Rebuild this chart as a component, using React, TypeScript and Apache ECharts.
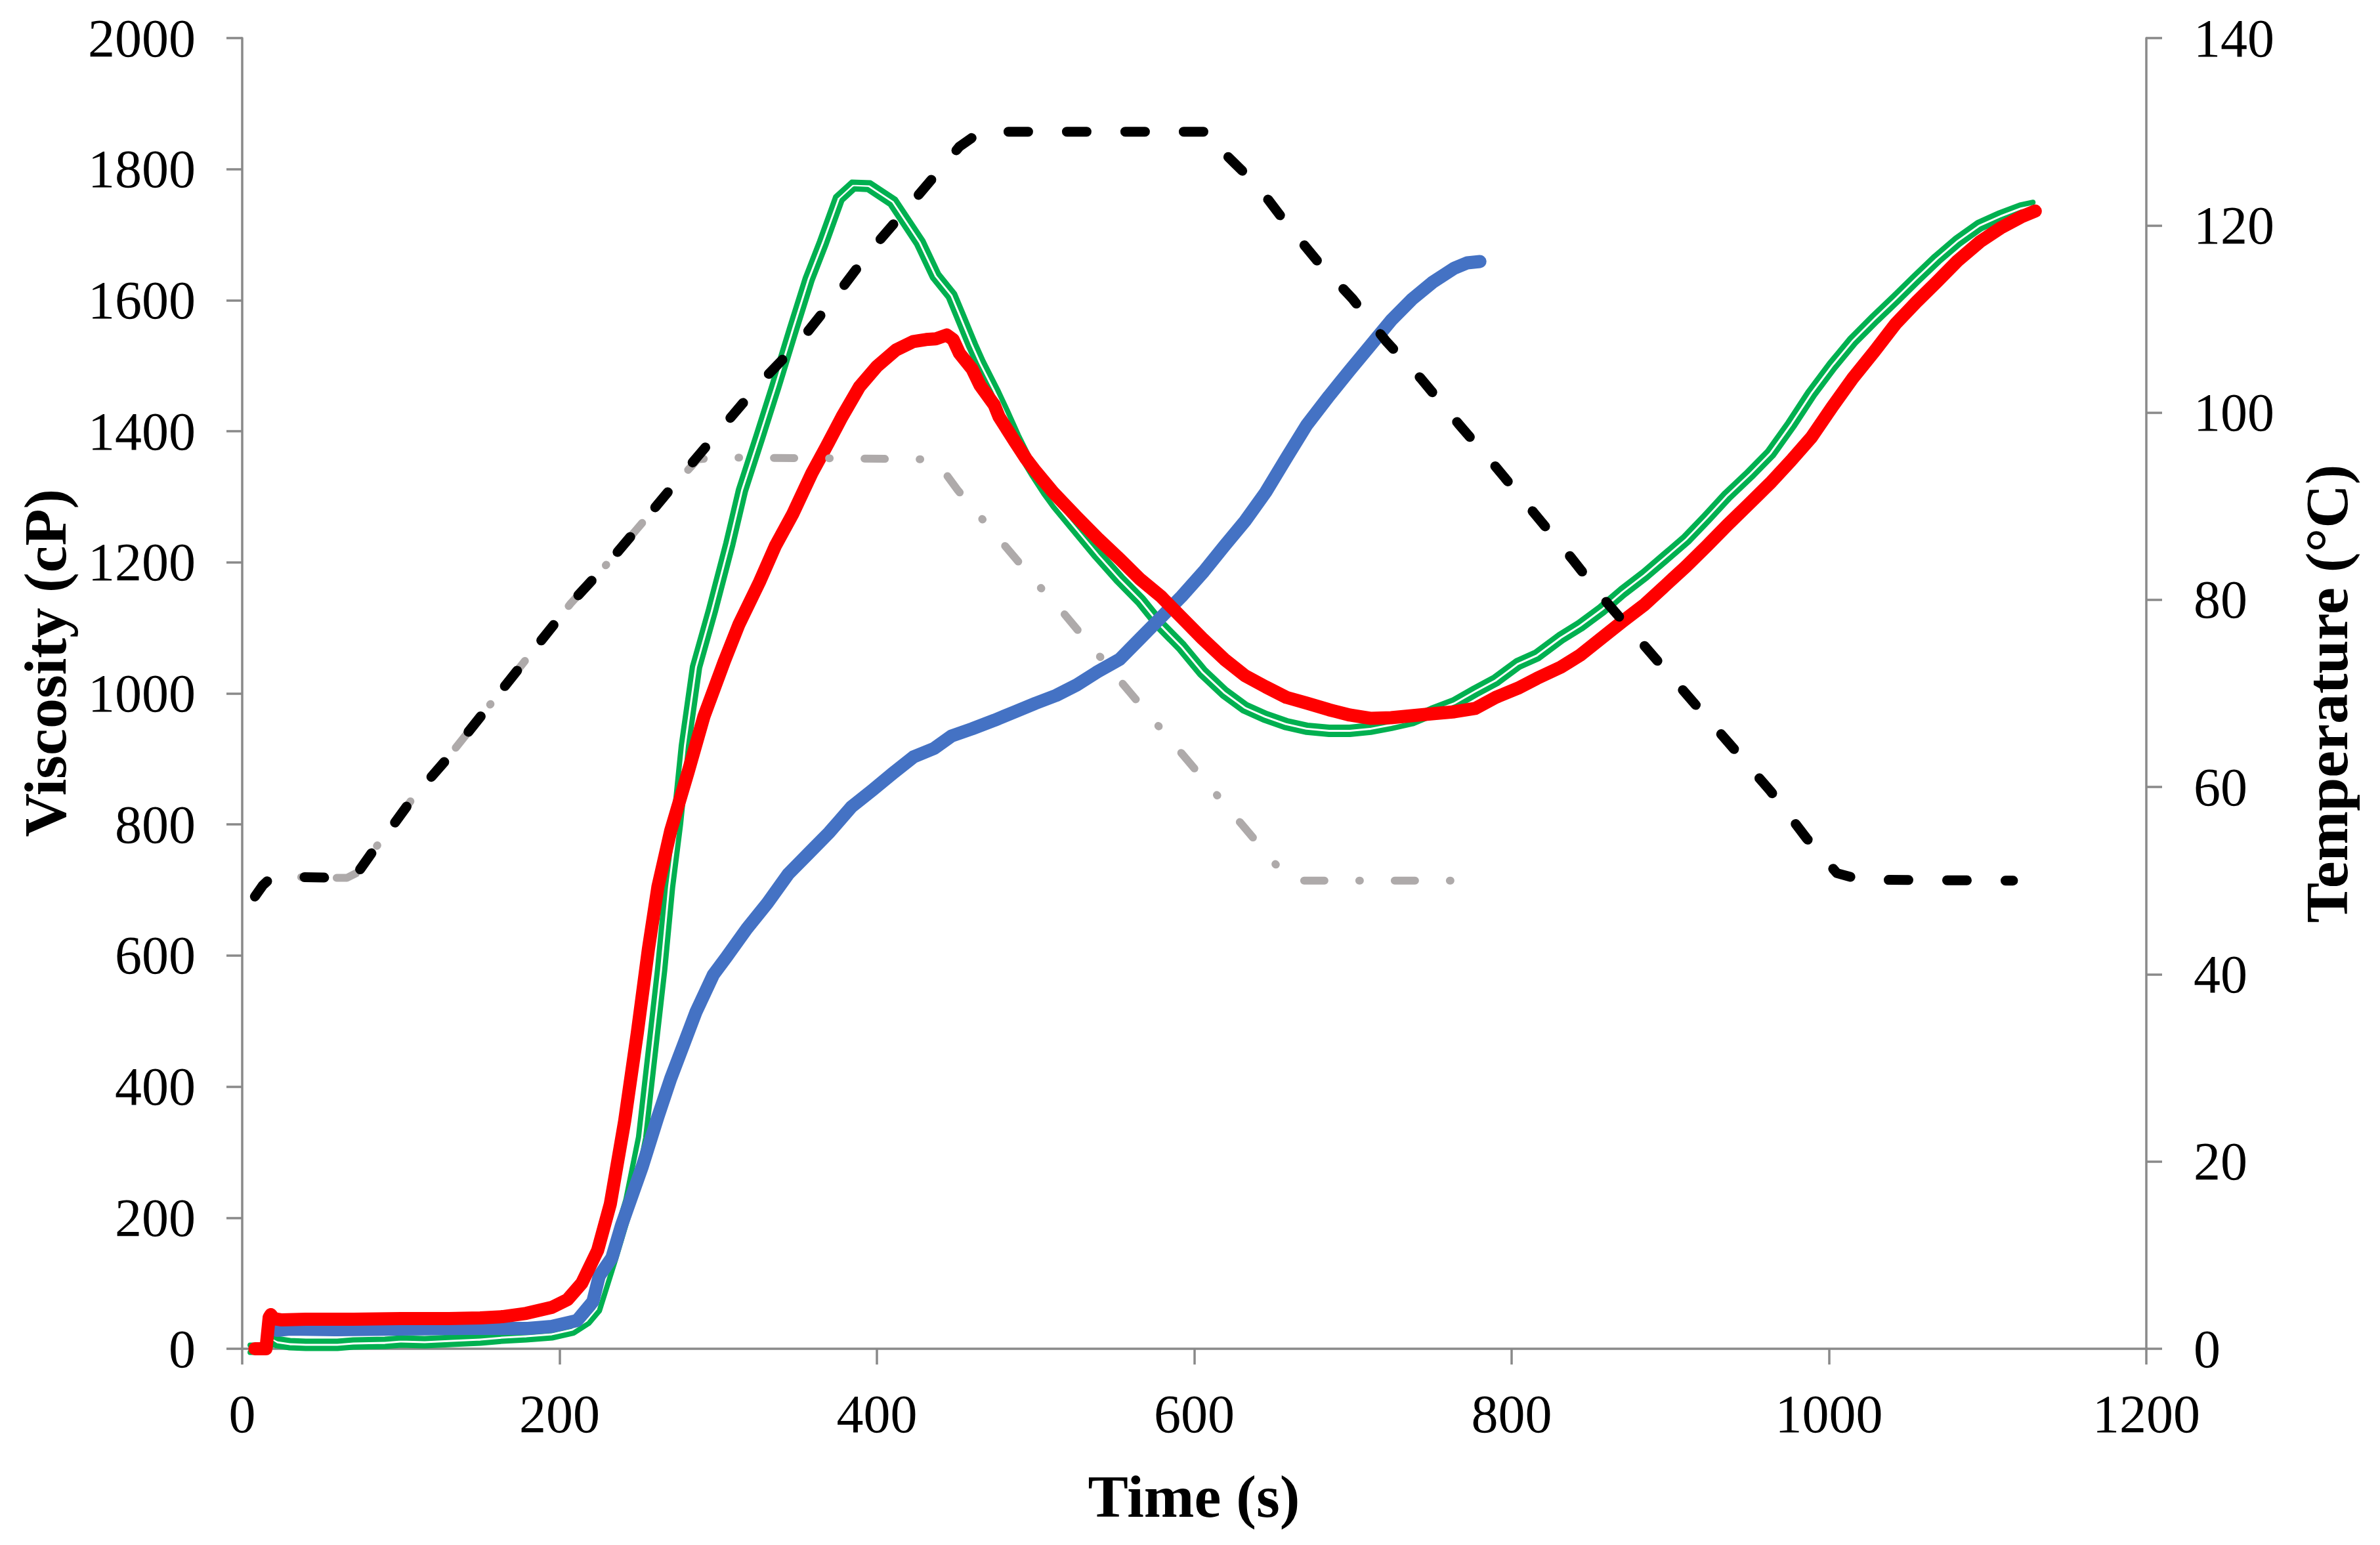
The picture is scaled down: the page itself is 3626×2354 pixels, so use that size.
import React, { useEffect, useRef } from "react";
import * as echarts from "echarts";

// ---- Data ----
const xTicks = { min: 0, max: 1200, interval: 200 };
const viscTicks = { min: 0, max: 2000, interval: 200 };
const tempTicks = { min: 0, max: 140, interval: 20 };

const xTitle = "Time (s)";
const leftTitle = "Viscosity (cP)";
const rightTitle = "Temperature (°C)";

const redTime = [8,15,17,18,20,25,40,70,100,130,150,164,179,195,205,214,224,232,241,249,256,262,270,281,291,304,313,326,336,347,359,368,378,389,400,412,423,431,437,444,448,452,460,465,474,477,487,494,500,511,526,539,553,566,579,592,605,619,632,645,658,671,685,698,711,724,737,750,764,777,790,804,816,831,843,857,870,884,897,910,923,936,950,963,976,989,1002,1015,1029,1042,1055,1068,1081,1095,1108,1121,1130];
const redVisc = [0,0,48,52,46,44,45,45,46,46,47,49,54,63,75,100,150,221,347,482,610,705,790,880,965,1050,1105,1170,1225,1274,1336,1376,1422,1468,1499,1524,1537,1540,1541,1547,1540,1519,1495,1470,1440,1422,1384,1358,1339,1307,1269,1237,1205,1174,1148,1116,1084,1052,1027,1010,994,985,975,967,962,963,966,969,972,977,994,1008,1023,1040,1058,1085,1110,1136,1165,1194,1225,1257,1290,1321,1355,1391,1437,1481,1523,1564,1597,1628,1660,1689,1710,1727,1736];

const greenTime = [5,14,17,19,22,30,40,60,70,90,100,115,132,150,164,179,195,208,217,223,233,244,252,258,264,269,274,279,286,296,307,315,326,336,347,357,366,376,385,395,410,427,437,447,452,460,465,474,480,487,494,500,507,513,526,539,553,566,579,592,605,619,632,645,658,671,685,698,711,724,737,750,764,777,790,804,816,831,843,857,870,884,897,910,923,936,950,963,976,989,1002,1015,1029,1042,1055,1068,1081,1095,1108,1121,1129];
const greenVisc = [0,0,10,14,10,7,6,6,8,9,11,10,12,14,17,19,22,29,43,60,137,226,322,450,578,705,801,920,1040,1126,1228,1310,1392,1468,1555,1632,1688,1755,1775,1774,1750,1688,1637,1607,1578,1531,1504,1461,1430,1392,1358,1334,1308,1288,1250,1212,1174,1142,1103,1071,1033,1001,978,964,953,946,943,943,946,952,959,972,985,1003,1020,1045,1058,1085,1103,1128,1155,1181,1208,1235,1268,1302,1334,1366,1410,1458,1500,1538,1572,1602,1633,1663,1690,1714,1728,1740,1744];

const blueTime = [22,30,60,100,140,180,195,211,221,225,233,239,252,262,270,278,286,297,305,318,331,344,357,370,384,397,410,423,436,447,460,474,487,500,513,526,539,553,566,579,592,606,619,632,645,658,671,685,698,711,724,737,750,764,772,780];
const blueVisc = [28,30,29,30,31,31,34,43,72,111,139,188,277,354,412,463,514,571,597,641,680,724,756,788,827,852,878,903,916,935,946,959,972,985,997,1013,1033,1052,1084,1116,1148,1186,1225,1263,1307,1359,1410,1454,1493,1531,1569,1601,1627,1649,1657,1659];

const blackTime = [8,13,18,30,60,66,73,83,95,107,128,207,233,256,279,302,326,351,374,395,419,442,452,462,469,480,540,611,619,640,658,677,700,721,743,767,790,814,838,858,963,986,1005,1020,1116];
const blackTemp = [48.3,49.5,50.3,50.4,50.3,50.3,50.9,53.3,55.9,58.7,62.8,79.6,84.4,89,93.7,98.3,103.1,107.5,112.4,117.1,121.8,126.4,128.4,129.6,129.4,130,130,130,127.7,124.2,120.2,116.3,112.1,107.6,103.6,98.7,94.2,89.3,84.4,80.1,59.6,54.5,50.8,50.1,50];

const grayTime = [8,13,18,30,60,66,73,83,95,107,128,207,233,256,279,287,300,380,435,441,451,501,518,560,600,640,655,662,700,780];
const grayTemp = [48.3,49.5,50.3,50.4,50.3,50.3,50.9,53.3,55.9,58.7,62.8,79.6,84.4,89,93.5,95,95.2,95.1,95,94,91.7,81.7,78.5,70,62,54,51,50,50,50];

// ---- helpers ----
const pairs = (xs: number[], ys: number[]) => xs.map((x, i) => [x, ys[i]]);

const FONT = "'Liberation Serif', 'Times New Roman', serif";
const AXIS_COLOR = "#898989";

function buildOption() {
  const axisCommon = {
    axisLine: { show: true, onZero: false, lineStyle: { color: AXIS_COLOR, width: 3.5 } },
    axisTick: { show: true, inside: false, length: 24, lineStyle: { color: AXIS_COLOR, width: 3.5 } },
    splitLine: { show: false },
  };
  const labelCommon = {
    color: "#000",
    fontSize: 82,
    fontFamily: FONT,
    formatter: (v: number) => String(v),
  };

  // green double compound line (two strokes with a see-through gap)
  const greenDouble = {
    type: "custom",
    xAxisIndex: 0,
    yAxisIndex: 0,
    silent: true,
    clip: false,
    data: [[0, 0]],
    renderItem: (_params: any, api: any) => {
      const pts = greenTime.map((t, i) => api.coord([t, greenVisc[i]]));
      const off = 5.5;
      const a: number[][] = [];
      const b: number[][] = [];
      const n = pts.length;
      for (let i = 0; i < n; i++) {
        const p = pts[i];
        const pr = pts[Math.max(i - 1, 0)];
        const nx0 = pts[Math.min(i + 1, n - 1)];
        const dx = nx0[0] - pr[0];
        const dy = nx0[1] - pr[1];
        const len = Math.hypot(dx, dy) || 1;
        const nx = -dy / len;
        const ny = dx / len;
        a.push([p[0] + nx * off, p[1] + ny * off]);
        b.push([p[0] - nx * off, p[1] - ny * off]);
      }
      const st = { stroke: "#00B050", lineWidth: 8, fill: null, lineJoin: "round", lineCap: "round" };
      return {
        type: "group",
        children: [
          { type: "polyline", shape: { points: a }, style: st },
          { type: "polyline", shape: { points: b }, style: st },
        ],
      };
    },
  };

  return {
    animation: false,
    backgroundColor: "#ffffff",
    grid: { left: 369, right: 356, top: 58, bottom: 299, containLabel: false },
    xAxis: {
      type: "value",
      min: xTicks.min,
      max: xTicks.max,
      interval: xTicks.interval,
      ...axisCommon,
      axisLabel: { ...labelCommon, margin: 58 },
    },
    yAxis: [
      {
        type: "value",
        position: "left",
        min: viscTicks.min,
        max: viscTicks.max,
        interval: viscTicks.interval,
        ...axisCommon,
        axisLabel: { ...labelCommon, margin: 71 },
      },
      {
        type: "value",
        position: "right",
        min: tempTicks.min,
        max: tempTicks.max,
        interval: tempTicks.interval,
        ...axisCommon,
        axisLabel: { ...labelCommon, margin: 72 },
      },
    ],
    series: [
      {
        type: "line",
        yAxisIndex: 0,
        data: pairs(blueTime, blueVisc),
        symbol: "none",
        showSymbol: false,
        clip: false,
        silent: true,
        lineStyle: { color: "#4472C4", width: 20, cap: "round", join: "round" },
      },
      {
        type: "line",
        yAxisIndex: 0,
        data: pairs(redTime, redVisc),
        symbol: "none",
        showSymbol: false,
        clip: false,
        silent: true,
        lineStyle: { color: "#FF0000", width: 20, cap: "round", join: "round" },
      },
      greenDouble,
      {
        type: "line",
        yAxisIndex: 1,
        data: pairs(grayTime, grayTemp),
        symbol: "none",
        showSymbol: false,
        clip: false,
        silent: true,
        lineStyle: { color: "#AEAAAA", width: 12, type: [31, 53, 1, 53], cap: "round", join: "round" },
      },
      {
        type: "line",
        yAxisIndex: 1,
        data: pairs(blackTime, blackTemp),
        symbol: "none",
        showSymbol: false,
        clip: false,
        silent: true,
        lineStyle: { color: "#000000", width: 15, type: [30, 59], cap: "round", join: "round" },
      },
    ],
    graphic: [
      {
        type: "text",
        x: 1819,
        y: 2280,
        silent: true,
        style: {
          text: xTitle,
          fill: "#000",
          fontSize: 92,
          fontWeight: "bold",
          fontFamily: FONT,
          textAlign: "center",
          textVerticalAlign: "middle",
          verticalAlign: "middle",
        },
      },
      {
        type: "text",
        x: 69,
        y: 1010,
        rotation: Math.PI / 2,
        silent: true,
        style: {
          text: leftTitle,
          fill: "#000",
          fontSize: 92,
          fontWeight: "bold",
          fontFamily: FONT,
          textAlign: "center",
          textVerticalAlign: "middle",
          verticalAlign: "middle",
        },
      },
      {
        type: "text",
        x: 3545,
        y: 1057,
        rotation: Math.PI / 2,
        silent: true,
        style: {
          text: rightTitle,
          fill: "#000",
          fontSize: 92,
          fontWeight: "bold",
          fontFamily: FONT,
          textAlign: "center",
          textVerticalAlign: "middle",
          verticalAlign: "middle",
        },
      },
    ],
  };
}

export default function App() {
  const ref = useRef<HTMLDivElement>(null);
  useEffect(() => {
    document.body.style.margin = "0";
    if (!ref.current) return;
    const chart = echarts.init(ref.current, null, { renderer: "svg" });
    chart.setOption(buildOption() as any);
    return () => {
      chart.dispose();
    };
  }, []);
  return <div ref={ref} style={{ width: 3626, height: 2354, background: "#fff" }} />;
}
